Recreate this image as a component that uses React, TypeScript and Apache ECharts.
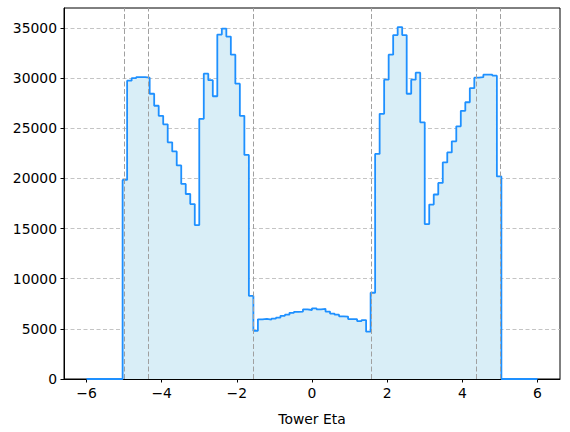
import React, { useEffect, useRef } from "react";
import * as echarts from "echarts";

// Histogram of tower eta: 100 bins from -6 to 6
const binStart = -6;
const binWidth = 0.12;
const counts = [
  0, 0, 0, 0, 0, 0, 0, 0,
  19850, 29750, 30000, 30100, 30100, 30050, 28450, 27250, 26250, 25400,
  23600, 22700, 21300, 19450, 18450, 17450, 15350, 25950, 30450, 29800,
  28200, 34350, 34950, 34150, 32350, 29450, 26250, 22350, 8300, 4800,
  5950, 6000, 5930, 6020, 6120, 6300, 6420, 6600, 6700, 6720,
  6950, 6880, 7050, 6950, 7000, 6720, 6520, 6420, 6250, 6230,
  5980, 5970, 5780, 5880, 4720, 8600, 22450, 26450, 29850, 32350,
  34300, 35100, 34300, 28450, 29850, 30550, 25600, 15450, 17400, 18400,
  19550, 21600, 22600, 23700, 25200, 26750, 27600, 29000, 30050, 30100,
  30350, 30350, 30250, 20200,
  0, 0, 0, 0, 0, 0, 0, 0,
];
const markers = [-5.0, -4.36, -1.57, 1.57, 4.36, 5.0];
const xTicks = [-6, -4, -2, 0, 2, 4, 6];
const yTicks = [0, 5000, 10000, 15000, 20000, 25000, 30000, 35000];

const FONT = "DejaVu Sans";

export default function App() {
  const ref = useRef<HTMLDivElement>(null);
  useEffect(() => {
    if (!ref.current) return;
    const chart = echarts.init(ref.current, null, { renderer: "svg" });
    const pts: number[][] = counts.map((c, i) => [
      Math.round((binStart + i * binWidth) * 1000) / 1000,
      c,
    ]);
    pts.push([
      Math.round((binStart + counts.length * binWidth) * 1000) / 1000,
      counts[counts.length - 1],
    ]);
    chart.setOption({
      animation: false,
      grid: {
        left: 64,
        top: 8,
        width: 496,
        height: 371,
        show: true,
        borderColor: "#000",
        borderWidth: 1,
        backgroundColor: "transparent",
      },
      xAxis: {
        type: "value",
        min: -6.6,
        max: 6.6,
        name: "Tower Eta",
        nameLocation: "middle",
        nameGap: 33,
        nameTextStyle: { fontFamily: FONT, fontSize: 13.9, color: "#000" },
        axisLine: { show: true, onZero: false, lineStyle: { color: "#000", width: 1 } },
        axisTick: { show: true, length: 3.5, lineStyle: { color: "#000" }, customValues: xTicks },
        axisLabel: {
          customValues: xTicks,
          fontFamily: FONT,
          fontSize: 13.9,
          color: "#000",
          margin: 7,
          formatter: (v: number) => (v < 0 ? "\u2212" + Math.abs(v) : String(v)),
        },
        splitLine: { show: false },
      },
      yAxis: {
        type: "value",
        min: 0,
        max: 37000,
        axisLine: { show: true, onZero: false, lineStyle: { color: "#000", width: 1 } },
        axisTick: { show: true, length: 3.5, lineStyle: { color: "#000" }, customValues: yTicks },
        axisLabel: {
          customValues: yTicks,
          fontFamily: FONT,
          fontSize: 13.9,
          color: "#000",
          margin: 7,
          formatter: (v: number) => String(v),
        },
        splitLine: {
          show: true,
          lineStyle: { color: "#c4c4c4", type: [4, 2.5], width: 1 },
        },
      },
      series: [
        {
          type: "line",
          step: "end",
          data: pts,
          symbol: "none",
          lineStyle: { color: "#1e90ff", width: 1.8 },
          areaStyle: { color: "#d9eef7", opacity: 1 },
          markLine: {
            silent: true,
            symbol: ["none", "none"],
            label: { show: false },
            lineStyle: { color: "#a0a0a0", type: [5, 2.5], width: 1 },
            data: markers.map((v) => ({ xAxis: v })),
          },
        },
      ],
    });
    return () => chart.dispose();
  }, []);
  return (
    <div
      ref={ref}
      style={{ position: "absolute", left: 0, top: 0, width: 570, height: 432 }}
    />
  );
}
